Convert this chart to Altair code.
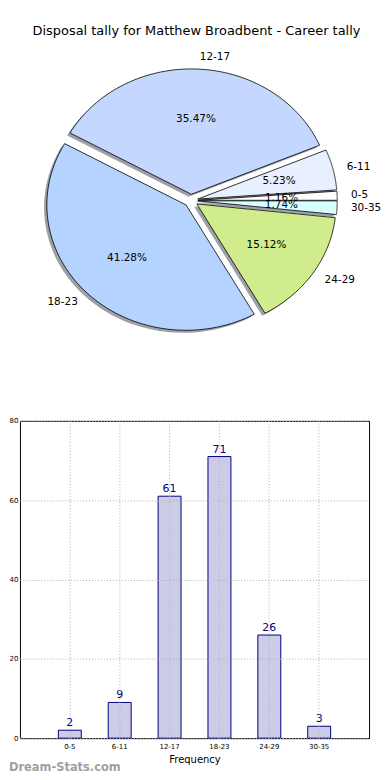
import altair as alt
import pandas as pd

# ---------------- data ----------------
categories = ["0-5", "6-11", "12-17", "18-23", "24-29", "30-35"]
counts = [2, 9, 61, 71, 26, 3]
slice_colors = ["#ffffff", "#e8f0ff", "#c4d8ff", "#b4d4ff", "#d0ec8c", "#d8ffff"]
y_ticks = [0, 10, 20, 30, 40, 50, 60, 70, 80]
title_text = "Disposal tally for Matthew Broadbent - Career tally"
watermark = "Dream-Stats.com"

FONT = "DejaVu Sans"

# ---------------- pie geometry (styles / layout) ----------------
N = 72            # points along each arc
EXPLODE = 0.05    # fraction of radius
SHADOW = 0.02
RX, RY = 140.0, 126.0
PLOT_LEFT_PAGE = 19.0
PIE_W, PIE_H = 355, 310
PIE_TOP = 41.0    # page y of pie plot-area top
CX_PAGE, CY_PAGE = 191.0, 198.5
xmin = -(CX_PAGE - PLOT_LEFT_PAGE) / RX
xmax = xmin + PIE_W / RX
ymax = (CY_PAGE - PIE_TOP) / RY
ymin = ymax - PIE_H / RY

df = pd.DataFrame({"cat": categories, "count": counts, "idx": list(range(len(categories)))})

base = (
    alt.Chart(df)
    .transform_joinaggregate(total="sum(count)")
    .transform_window(cum="sum(count)", sort=[alt.SortField("idx")], frame=[None, 0])
    .transform_calculate(
        a0="2*PI*(datum.cum-datum.count)/datum.total",
        a1="2*PI*datum.cum/datum.total",
    )
    .transform_calculate(am="(datum.a0+datum.a1)/2")
)

xs = alt.Scale(domain=[xmin, xmax], nice=False, zero=False)
ys = alt.Scale(domain=[ymin, ymax], nice=False, zero=False)

poly = (
    base.transform_calculate(pts=f"sequence(0, {N + 3})")
    .transform_flatten(["pts"], as_=["k"])
    .transform_calculate(
        r=f"(datum.k == 0 || datum.k == {N + 2}) ? 0 : 1",
        a=f"datum.a0 + clamp(datum.k - 1, 0, {N}) / {N} * (datum.a1 - datum.a0)",
    )
    .transform_calculate(
        px=f"{EXPLODE}*cos(datum.am) + datum.r*cos(datum.a)",
        py=f"{EXPLODE}*sin(datum.am) + datum.r*sin(datum.a)",
    )
    .transform_calculate(sx=f"datum.px - {SHADOW}", sy=f"datum.py - {SHADOW}")
)

shadow = poly.mark_line(fill="#3b414d", fillOpacity=0.5, strokeOpacity=0, interpolate="linear").encode(
    x=alt.X("sx:Q", scale=xs, axis=None),
    y=alt.Y("sy:Q", scale=ys, axis=None),
    order="k:Q",
    detail="cat:N",
)

slices = poly.mark_line(stroke="black", strokeWidth=0.8, strokeJoin="round", interpolate="linear").encode(
    x=alt.X("px:Q", scale=xs, axis=None),
    y=alt.Y("py:Q", scale=ys, axis=None),
    order="k:Q",
    detail="cat:N",
    fill=alt.Fill("cat:N", scale=alt.Scale(domain=categories, range=slice_colors), legend=None),
)

pct = (
    base.transform_calculate(
        tx=f"({EXPLODE}+0.6)*cos(datum.am)",
        ty=f"({EXPLODE}+0.6)*sin(datum.am)",
        lab="format(100*datum.count/datum.total, '.2f') + '%'",
    )
    .mark_text(font=FONT, fontSize=10.5, color="black", align="center", baseline="middle")
    .encode(x=alt.X("tx:Q", scale=xs, axis=None), y=alt.Y("ty:Q", scale=ys, axis=None), text="lab:N")
)

lab_base = base.transform_calculate(
    tx=f"({EXPLODE}+1.1)*cos(datum.am)",
    ty=f"({EXPLODE}+1.1)*sin(datum.am)",
)
lab_right = (
    lab_base.transform_filter("datum.tx > 0")
    .mark_text(font=FONT, fontSize=10.5, color="black", align="left", baseline="middle")
    .encode(x=alt.X("tx:Q", scale=xs, axis=None), y=alt.Y("ty:Q", scale=ys, axis=None), text="cat:N")
)
lab_left = (
    lab_base.transform_filter("datum.tx <= 0")
    .mark_text(font=FONT, fontSize=10.5, color="black", align="right", baseline="middle")
    .encode(x=alt.X("tx:Q", scale=xs, axis=None), y=alt.Y("ty:Q", scale=ys, axis=None), text="cat:N")
)

pie = alt.layer(shadow, slices, pct, lab_right, lab_left).properties(
    width=PIE_W,
    height=PIE_H,
    title=alt.TitleParams(
        title_text, font=FONT, fontSize=13, fontWeight="normal", color="black", anchor="middle", offset=6
    ),
)

# ---------------- bar chart ----------------
bdf = pd.DataFrame({"cat": categories, "count": counts})

xb = alt.X(
    "cat:N",
    sort=categories,
    scale=alt.Scale(paddingInner=0.54, paddingOuter=0.77),
    axis=alt.Axis(
        title="Frequency",
        titleFont=FONT,
        titleFontSize=10,
        titleFontWeight="normal",
        titleColor="black",
        titlePadding=5,
        labelFont=FONT,
        labelFontSize=7,
        labelColor="black",
        labelAngle=0,
        labelPadding=4,
        ticks=False,
        domain=False,
        grid=True,
        gridDash=[1, 2],
        gridColor="#b0b0b0",
        bandPosition=0.5,
        zindex=1,
    ),
)
yb = alt.Y(
    "count:Q",
    scale=alt.Scale(domain=[0, 80], nice=False),
    axis=alt.Axis(
        title=None,
        values=y_ticks,
        labelFont=FONT,
        labelFontSize=7,
        labelColor="black",
        labelPadding=2,
        ticks=False,
        domain=False,
        grid=True,
        gridDash=[1, 2],
        gridColor="#b0b0b0",
        minExtent=11,
        maxExtent=11,
        zindex=1,
    ),
)

bars = alt.Chart(bdf).mark_bar(fill="#cccce6", stroke="#000080", strokeWidth=1).encode(x=xb, y=yb)
vals = alt.Chart(bdf).mark_text(font=FONT, fontSize=11, color="#000080", dy=-7, baseline="middle").encode(
    x=alt.X("cat:N", sort=categories), y=alt.Y("count:Q"), text="count:Q"
)

bar = alt.layer(bars, vals).properties(
    width=351,
    height=319,
    view=alt.ViewBackground(stroke="black", strokeWidth=1),
    title=alt.TitleParams(
        watermark, orient="bottom", anchor="start", font=FONT, fontSize=11.5, fontWeight="bold",
        color="#a0a0a0", offset=-2,
    ),
)

chart = (
    alt.vconcat(pie, bar, spacing=63)
    .properties(padding={"left": 0, "top": 14, "right": 0, "bottom": 0})
    .configure_view(stroke="transparent")
)

chart.save("out.html", embed_options={"renderer": "svg", "actions": False})
